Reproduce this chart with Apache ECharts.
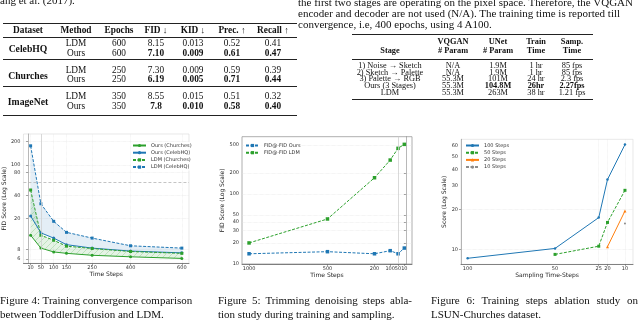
<!DOCTYPE html>
<html><head><meta charset="utf-8">
<script src="https://cdn.jsdelivr.net/npm/echarts@6/dist/echarts.min.js"></script>
<style>
html,body{margin:0;padding:0;width:640px;height:320px;overflow:hidden;background:#fff;}
#chart{position:absolute;left:0;top:0;width:640px;height:320px;}
#txt{position:absolute;left:0;top:0;width:640px;height:320px;overflow:hidden;}
.t{position:absolute;white-space:nowrap;font-family:"Liberation Serif","DejaVu Serif",serif;color:#111;line-height:1;}
.rule{position:absolute;background:#222;}
</style></head><body>
<div id="chart"></div>
<div id="txt"></div>
<script>
// ---------- Figure 4 data ----------
const fig4Steps = [10, 50, 100, 150, 250, 400, 600];
const fig4OursChurches = [12.2, 8.3, 7.4, 7.1, 6.7, 6.4, 6.1];
const fig4OursCeleb = [21.7, 13.1, 11.2, 9.2, 8.3, 7.6, 7.2];
const fig4LdmChurches = [47.2, 12.2, 10.5, 8.8, 8.2, 7.5, 7.1];
const fig4LdmCeleb = [177, 31.3, 18.5, 13.3, 11.2, 8.9, 8.3];
const fig4YTicks = [6, 8, 20, 40, 80, 100, 200];
const fig4Names = ["Ours (Churches)", "Ours (CelebHQ)", "LDM (Churches)", "LDM (CelebHQ)"];

// ---------- Figure 5 data ----------
const fig5Steps = [1000, 500, 200, 100, 50, 10];
const fig5Ours = [14, 15, 14, 15.5, 14, 16.9];
const fig5Ldm = [20, 44, 171, 306, 450, 513];
const fig5YTicks = [10, 20, 30, 40, 50, 100, 200, 500];
const fig5Names = ["FID@-FID Ours", "FID@-FID LDM"];

// ---------- Figure 6 data ----------
const fig6XTicks = [100, 50, 25, 20, 10];
const fig6Steps100X = [100, 50, 25, 20, 10];
const fig6Steps100 = [8.6, 10.2, 17.4, 33.6, 61.6];
const fig6Steps50X = [50, 25, 20, 10];
const fig6Steps50 = [9.2, 10.6, 16.0, 27.9];
const fig6Steps20X = [20, 10];
const fig6Steps20 = [10.5, 19.5];
const fig6Steps10X = [10];
const fig6Steps10 = [15.7];
const fig6YTicks = [10, 20, 30, 40, 50, 60];
const fig6Names = ["100 Steps", "50 Steps", "20 Steps", "10 Steps"];

// ---------- Table 1 ----------
const t1Header = ["Dataset", "Method", "Epochs", "FID ↓", "KID ↓", "Prec. ↑", "Recall ↑"];
const t1Datasets = ["CelebHQ", "Churches", "ImageNet"];
const t1Methods = ["LDM", "Ours"];
const t1Epochs = [["600", "600"], ["250", "250"], ["350", "350"]];
const t1FID = [["8.15", "7.10"], ["7.30", "6.19"], ["8.55", "7.8"]];
const t1KID = [["0.013", "0.009"], ["0.009", "0.005"], ["0.015", "0.010"]];
const t1Prec = [["0.52", "0.61"], ["0.59", "0.71"], ["0.51", "0.58"]];
const t1Recall = [["0.41", "0.47"], ["0.39", "0.44"], ["0.32", "0.40"]];

// ---------- Table 2 ----------
const t2HeadTop = ["", "VQGAN", "UNet", "Train", "Samp."];
const t2HeadBottom = ["Stage", "# Param", "# Param", "Time", "Time"];
const t2Stages = ["1) Noise → Sketch", "2) Sketch → Palette", "3) Palette → RGB", "Ours (3 Stages)", "LDM"];
const t2VQGAN = ["N/A", "N/A", "55.3M", "55.3M", "55.3M"];
const t2UNet = ["1.9M", "1.9M", "101M", "104.8M", "263M"];
const t2Train = ["1 hr", "1 hr", "24 hr", "26hr", "38 hr"];
const t2Samp = ["85 fps", "85 fps", "2.3 fps", "2.27fps", "1.21 fps"];

// ---------- Text ----------
const leftTopText = "ang et al. (2017).";
const rightText = [
  "the first two stages are operating on the pixel space. Therefore, the VQGAN",
  "encoder and decoder are not used (N/A). The training time is reported till",
  "convergence, i.e, 400 epochs, using 4 A100."
];
const captions = [
  ["Figure 4: Training convergence comparison", "between ToddlerDiffusion and LDM."],
  ["Figure 5: Trimming denoising steps abla-", "tion study during training and sampling."],
  ["Figure 6: Training steps ablation study on", "LSUN-Churches dataset."]
];

// ================= HTML text layout =================
const txt = document.getElementById('txt');
function put(text, x, y, size, o) {
  o = o || {};
  const d = document.createElement('div');
  d.className = 't';
  d.style.left = x + 'px';
  d.style.top = y + 'px';
  d.style.fontSize = size + 'px';
  d.style.transform = o.align === 'l' ? 'translate(0,-50%)' : 'translate(-50%,-50%)';
  if (o.bold) d.style.fontWeight = 'bold';
  if (o.width) { d.style.width = o.width + 'px'; d.style.textAlign = 'justify'; d.style.textAlignLast = 'justify'; }
  d.textContent = text;
  txt.appendChild(d);
}
function rule(x1, x2, y, h) {
  const d = document.createElement('div');
  d.className = 'rule';
  d.style.left = x1 + 'px'; d.style.width = (x2 - x1) + 'px';
  d.style.top = y + 'px'; d.style.height = h + 'px';
  txt.appendChild(d);
}
// top text
put(leftTopText, 0, -0.5, 11, {align: 'l'});
rightText.forEach((s, i) => put(s, 298, 1.5 + i * 11.2, 11, {align: 'l'}));

// table 1
const t1Cols = [28, 76, 119, 156, 193, 232, 273];
const T1 = 9.3;
rule(3, 297, 22.8, 1.2);
t1Header.forEach((h, i) => put(h, t1Cols[i], 30.7, T1, {bold: true}));
rule(3, 297, 37, 0.6);
const t1RowY = [[43.7, 54.3], [70.7, 80.3], [96.7, 107.3]];
const t1DsY = [49.3, 75.7, 102];
t1Datasets.forEach((ds, g) => {
  put(ds, t1Cols[0], t1DsY[g], T1 + 0.4, {bold: true});
  t1Methods.forEach((m, r) => {
    const y = t1RowY[g][r];
    const b = r === 1;
    put(m, t1Cols[1], y, T1);
    put(t1Epochs[g][r], t1Cols[2], y, T1);
    put(t1FID[g][r], t1Cols[3], y, T1, {bold: b});
    put(t1KID[g][r], t1Cols[4], y, T1, {bold: b});
    put(t1Prec[g][r], t1Cols[5], y, T1, {bold: b});
    put(t1Recall[g][r], t1Cols[6], y, T1, {bold: b});
  });
});
rule(3, 297, 59.3, 0.6);
rule(3, 297, 86, 0.6);
rule(3, 297, 114.5, 1.2);

// table 2
const t2Cols = [390, 453, 498, 536, 572];
const T2 = 8.3;
rule(352, 593, 33.8, 1.1);
t2HeadTop.forEach((h, i) => { if (h) put(h, t2Cols[i], 42.3, T2, {bold: true}); });
t2HeadBottom.forEach((h, i) => put(h, t2Cols[i], 51.2, T2, {bold: true}));
rule(352, 593, 58.8, 0.6);
const t2RowY = [66, 72.7, 79.3, 86, 92.7];
t2Stages.forEach((s, r) => {
  const y = t2RowY[r];
  const b = r === 3;
  put(s, t2Cols[0], y, T2);
  put(t2VQGAN[r], t2Cols[1], y, T2);
  put(t2UNet[r], t2Cols[2], y, T2, {bold: b});
  put(t2Train[r], t2Cols[3], y, T2, {bold: b});
  put(t2Samp[r], t2Cols[4], y, T2, {bold: b});
});
rule(352, 593, 99.4, 1.1);

// captions
const capX = [0, 218, 431];
const capW = [185, 194, 207];
captions.forEach((c, i) => {
  put(c[0], capX[i], 300, 11, {align: 'l', width: capW[i]});
  put(c[1], capX[i], 313.5, 11, {align: 'l'});
});

// ================= ECharts =================
const BLUE = '#1f77b4', GREEN = '#2ca02c', ORANGE = '#ff7f0e', GRAY = '#8c8c8c';
const FONT = 'DejaVu Sans';
const pair = (xs, ys) => xs.map((x, i) => [x, ys[i]]);

// hatch pattern for green band
const pc = document.createElement('canvas');
pc.width = 6; pc.height = 6;
const pctx = pc.getContext('2d');
pctx.fillStyle = 'rgba(44,160,44,0.12)';
pctx.fillRect(0, 0, 6, 6);
pctx.strokeStyle = 'rgba(44,160,44,0.35)';
pctx.lineWidth = 0.6;
pctx.beginPath(); pctx.moveTo(0, 6); pctx.lineTo(6, 0); pctx.stroke();
pctx.beginPath(); pctx.moveTo(-1, 1); pctx.lineTo(1, -1); pctx.stroke();
pctx.beginPath(); pctx.moveTo(5, 7); pctx.lineTo(7, 5); pctx.stroke();

function band(xs, upper, lower, fill, idx) {
  return {
    type: 'custom', xAxisIndex: idx, yAxisIndex: idx, silent: true, z: 1,
    data: [[xs[0], upper[0]]], encode: {x: 0, y: 1},
    renderItem: function (params, api) {
      const pts = [];
      for (let i = 0; i < xs.length; i++) pts.push(api.coord([xs[i], upper[i]]));
      for (let i = xs.length - 1; i >= 0; i--) pts.push(api.coord([xs[i], lower[i]]));
      return {type: 'polygon', shape: {points: pts}, style: {fill: fill}};
    }
  };
}
function line(name, idx, xs, ys, color, dashed, symbol, size) {
  return {
    name: name, type: 'line', xAxisIndex: idx, yAxisIndex: idx, z: 3,
    data: pair(xs, ys), symbol: symbol, symbolSize: size || 3, showSymbol: true,
    lineStyle: {color: color, width: 1, type: dashed ? [3, 1.5] : 'solid'},
    itemStyle: {color: color}, emphasis: {disabled: true}, animation: false
  };
}
const plain = v => String(v);
const labelStyle = {fontSize: 5, color: '#333', fontFamily: FONT, formatter: plain};
const nameStyle = {fontSize: 6, color: '#222', fontFamily: FONT};
function xAxis(idx, min, max, inverse, labels, ticks, name, split) {
  return {
    type: 'value', gridIndex: idx, min: min, max: max, inverse: inverse,
    name: name, nameLocation: 'middle', nameGap: 8, nameTextStyle: nameStyle,
    axisLine: {show: true, lineStyle: {color: '#666', width: 0.8}},
    axisTick: {show: true, length: 2, customValues: ticks, lineStyle: {color: '#666', width: 0.6}},
    axisLabel: {customValues: labels, margin: 2, ...labelStyle},
    splitLine: {show: split !== false, lineStyle: {color: '#e6e6e6', width: 0.6, type: 'dotted'}}
  };
}
function yAxis(idx, min, max, labels, ticks, name, gap, split) {
  return {
    type: 'log', gridIndex: idx, min: min, max: max, logBase: 10,
    name: name, nameLocation: 'middle', nameGap: gap, nameTextStyle: nameStyle,
    axisLine: {show: true, lineStyle: {color: '#888', width: 0.6}},
    axisTick: {show: true, length: 2, customValues: ticks, lineStyle: {color: '#666', width: 0.6}},
    axisLabel: {customValues: labels, margin: 3, ...labelStyle},
    splitLine: {show: split !== false, lineStyle: {color: '#e2e2e2', width: 0.6, type: 'dotted'}},
    minorTick: {show: false}
  };
}
const legendBase = {orient: 'vertical', itemWidth: 13, itemHeight: 4, itemGap: 2.2, padding: 1,
  textStyle: {fontSize: 5, color: '#333', fontFamily: FONT}, backgroundColor: 'rgba(255,255,255,0.85)'};

const option = {
  animation: false,
  grid: [
    {left: 21, top: 134, width: 168, height: 129.3, show: true, borderColor: '#d8d8d8', borderWidth: 0.6},
    {left: 242, top: 136.7, width: 170, height: 127.3, show: true, borderColor: '#999', borderWidth: 0.8},
    {left: 461, top: 139.3, width: 172, height: 125, show: true, borderColor: '#d8d8d8', borderWidth: 0.6}
  ],
  xAxis: [
    xAxis(0, -18, 628, false, fig4Steps, fig4Steps, 'Time Steps'),
    xAxis(1, -39, 1045, true, fig5Steps, fig5Steps, 'Time Steps', false),
    xAxis(2, 5.4, 103.8, true, fig6XTicks, [25, 20, 10], 'Sampling Time-Steps')
  ],
  yAxis: [
    yAxis(0, 5.27, 252, fig4YTicks, fig4YTicks, 'FID Score (Log Scale)', 11),
    yAxis(1, 10, 660, fig5YTicks, fig5YTicks, 'FID Score (Log Scale)', 12),
    yAxis(2, 7.75, 67.5, fig6YTicks, [10, 20], 'Score (Log Scale)', 10)
  ],
  legend: [
    {...legendBase, left: 131, top: 142, data: fig4Names},
    {...legendBase, left: 244, top: 142, data: fig5Names},
    {...legendBase, left: 464, top: 142, data: fig6Names}
  ],
  series: [
    band(fig4Steps, fig4LdmCeleb, fig4OursCeleb, 'rgba(31,119,180,0.12)', 0),
    band(fig4Steps, fig4LdmChurches, fig4OursChurches, {image: pc, repeat: 'repeat'}, 0),
    Object.assign(line(fig4Names[0], 0, fig4Steps, fig4OursChurches, GREEN, false, 'circle', 3), {
      markLine: {silent: true, symbol: 'none', label: {show: false},
        lineStyle: {color: '#b5b5b5', width: 0.8, type: [3, 2]},
        data: [{yAxis: 60}, {xAxis: 50, lineStyle: {type: 'solid', color: '#d0d0d0'}}]}
    }),
    line(fig4Names[1], 0, fig4Steps, fig4OursCeleb, BLUE, false, 'circle', 3),
    line(fig4Names[2], 0, fig4Steps, fig4LdmChurches, GREEN, true, 'rect', 3),
    line(fig4Names[3], 0, fig4Steps, fig4LdmCeleb, BLUE, true, 'rect', 3),

    Object.assign(line(fig5Names[0], 1, fig5Steps, fig5Ours, BLUE, true, 'rect', 3.5), {
      markLine: {silent: true, symbol: 'none', label: {show: false},
        lineStyle: {color: '#cfcfcf', width: 0.8, type: 'solid'}, data: [{xAxis: 50}]}
    }),
    line(fig5Names[1], 1, fig5Steps, fig5Ldm, GREEN, true, 'rect', 3.5),

    line(fig6Names[0], 2, fig6Steps100X, fig6Steps100, BLUE, false, 'circle', 2.5),
    line(fig6Names[1], 2, fig6Steps50X, fig6Steps50, GREEN, true, 'rect', 3),
    line(fig6Names[2], 2, fig6Steps20X, fig6Steps20, ORANGE, false, 'triangle', 3),
    line(fig6Names[3], 2, fig6Steps10X, fig6Steps10, GRAY, true, 'circle', 2)
  ]
};
const chart = echarts.init(document.getElementById('chart'), null, {renderer: 'canvas'});
chart.setOption(option);
</script>
</body></html>
